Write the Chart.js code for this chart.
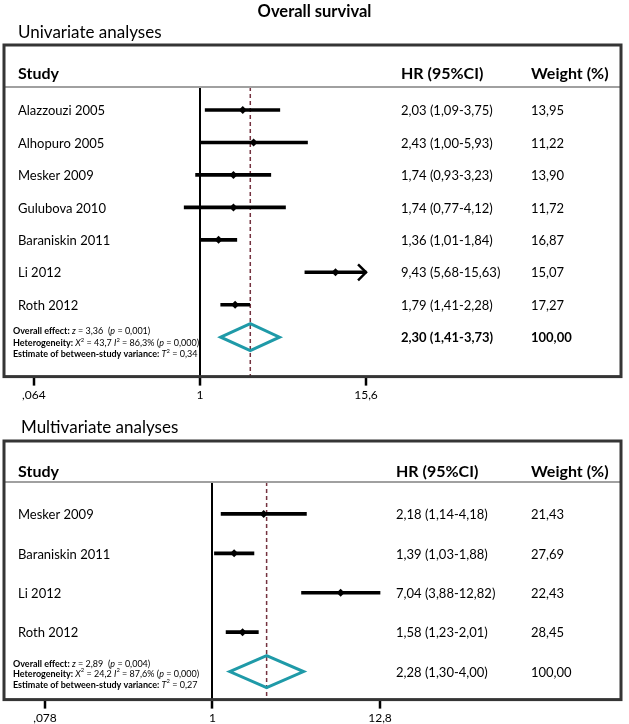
<!DOCTYPE html>
<html>
<head>
<meta charset="utf-8">
<script src="https://cdn.jsdelivr.net/npm/chart.js@4/dist/chart.umd.min.js"></script>
<style>
  body { margin: 0; background: #fff; overflow: hidden; }
  #wrap { position: relative; width: 629px; height: 724px; overflow: hidden; background: #fff; font-family: Lato, sans-serif; color: #000; }
  canvas { position: absolute; left: 0; }
  .t { position: absolute; white-space: nowrap; z-index: 2; }
</style>
</head>
<body>
<div id="wrap">
  <canvas id="uniChart" width="629" height="404" style="top:0"></canvas>
  <canvas id="multiChart" width="629" height="322" style="top:405px"></canvas>
  <div class="t" style="left:0;width:629px;top:1px;text-align:center;font-weight:bold;font-size:16.5px;line-height:20px">Overall survival</div>
  <div class="t" style="left:18px;top:22px;font-size:17px;line-height:20px">Univariate analyses</div>
  <div class="t" style="left:21px;top:417px;font-size:17px;line-height:20px">Multivariate analyses</div>
</div>
<script>
// 단변량 분석 (Univariate)
const uniStudies = ['Alazzouzi 2005', 'Alhopuro 2005', 'Mesker 2009', 'Gulubova 2010', 'Baraniskin 2011', 'Li 2012', 'Roth 2012'];
const uniHR = [2.03, 2.43, 1.74, 1.74, 1.36, 9.43, 1.79];
const uniLow = [1.09, 1.00, 0.93, 0.77, 1.01, 5.68, 1.41];
const uniHigh = [3.75, 5.93, 3.23, 4.12, 1.84, 15.63, 2.28];
const uniWeight = [13.95, 11.22, 13.90, 11.72, 16.87, 15.07, 17.27];
const uniPooled = [2.30, 1.41, 3.73];   // HR, low, high
const uniStats = ['3,36', '0,001', '43,7', '86,3%', '0,000', '0,34'];
const uniTicks = [0.064, 1, 15.625];
const uniTickLabels = [',064', '1', '15,6'];

// 다변량 분석 (Multivariate)
const multiStudies = ['Mesker 2009', 'Baraniskin 2011', 'Li 2012', 'Roth 2012'];
const multiHR = [2.18, 1.39, 7.04, 1.58];
const multiLow = [1.14, 1.03, 3.88, 1.23];
const multiHigh = [4.18, 1.88, 12.82, 2.01];
const multiWeight = [21.43, 27.69, 22.43, 28.45];
const multiPooled = [2.28, 1.30, 4.00];
const multiStats = ['2,89', '0,004', '24,2', '87,6%', '0,000', '0,27'];
const multiTicks = [0.078, 1, 12.82];
const multiTickLabels = [',078', '1', '12,8'];

const FONT = 'Lato';

function fmt(v) {
  return v.toFixed(2).replace('.', ',');
}

function statLines(s) {
  return [
    [['Overall effect: ', 'b'], ['z', 'i'], [' = ' + s[0] + '  (', ''], ['p', 'i'], [' = ' + s[1] + ')', '']],
    [['Heterogeneity: ', 'b'], ['X', 'i'], ['2', 'sup'], [' = ' + s[2] + ' ', ''], ['I', 'i'], ['2', 'sup'], [' = ' + s[3] + ' (', ''], ['p', 'i'], [' = ' + s[4] + ')', '']],
    [['Estimate of between-study variance: ', 'b'], ['T', 'i'], ['2', 'sup'], [' = ' + s[5], '']]
  ];
}

function drawRich(ctx, x, y, segs, size) {
  segs.forEach(([txt, st]) => {
    let fs = size, dy = 0, style = '';
    if (st === 'b') style = 'bold ';
    if (st === 'i') style = 'italic ';
    if (st === 'sup') { fs = size * 0.65; dy = -size * 0.35; }
    ctx.font = style + fs + 'px ' + FONT;
    ctx.fillText(txt, x, y + dy);
    x += ctx.measureText(txt).width;
  });
}

// 포레스트 플롯 장식 (박스, 헤더, 텍스트, 요약 다이아몬드)
const forestPlugin = {
  id: 'forest',
  beforeDatasetsDraw(chart, args, o) {
    const ctx = chart.ctx;
    const ca = chart.chartArea;
    const x = chart.scales.x;
    ctx.save();
    // 전체 효과 점선
    const px = x.getPixelForValue(o.pooled[0]);
    ctx.strokeStyle = '#74323f';
    ctx.lineWidth = 1.5;
    ctx.setLineDash([4, 3]);
    ctx.beginPath();
    ctx.moveTo(px, ca.top);
    ctx.lineTo(px, ca.bottom);
    ctx.stroke();
    ctx.restore();
  },
  afterDatasetsDraw(chart, args, o) {
    const ctx = chart.ctx;
    const ca = chart.chartArea;
    const x = chart.scales.x;
    const y = chart.scales.y;
    ctx.save();

    // 헤더 구분선
    ctx.strokeStyle = '#a0a0a0';
    ctx.lineWidth = 2;
    ctx.beginPath();
    ctx.moveTo(ca.left, ca.top);
    ctx.lineTo(ca.right, ca.top);
    ctx.stroke();

    // 바깥 박스
    ctx.strokeStyle = '#353535';
    ctx.lineWidth = 3;
    ctx.strokeRect(ca.left, o.boxTop, ca.right - ca.left, ca.bottom - o.boxTop);

    // 헤더
    ctx.fillStyle = '#000';
    ctx.textBaseline = 'middle';
    ctx.font = 'bold 16px ' + FONT;
    const hy = ca.top + o.headerDy;
    ctx.fillText('Study', 18, hy);
    ctx.fillText('HR (95%CI)', o.hrX, hy);
    ctx.fillText('Weight (%)', o.wX, hy);

    // 연구별 텍스트
    ctx.font = '13px ' + FONT;
    o.studies.forEach((name, i) => {
      const py = y.getPixelForValue(i + 1) + 1;
      ctx.fillText(name, 18, py);
      ctx.fillText(fmt(o.hr[i]) + ' (' + fmt(o.low[i]) + '-' + fmt(o.high[i]) + ')', o.hrX, py);
      ctx.fillText(fmt(o.weight[i]), o.wX, py);
    });

    // 요약 행
    const sy = y.getPixelForValue(o.studies.length + 1);
    ctx.font = (o.pooledBold ? 'bold ' : '') + '13px ' + FONT;
    ctx.fillText(fmt(o.pooled[0]) + ' (' + fmt(o.pooled[1]) + '-' + fmt(o.pooled[2]) + ')', o.hrX, sy + 1);
    ctx.fillText(fmt(100), o.wX, sy + 1);
    statLines(o.stats).forEach((segs, k) => {
      drawRich(ctx, 13, sy + o.textDy[k], segs, 9);
    });

    // 다이아몬드
    const xl = x.getPixelForValue(o.pooled[1]);
    const xm = x.getPixelForValue(o.pooled[0]);
    const xr = x.getPixelForValue(o.pooled[2]);
    ctx.strokeStyle = '#1f9aa8';
    ctx.lineWidth = 3;
    ctx.lineJoin = 'miter';
    ctx.beginPath();
    ctx.moveTo(xl, sy);
    ctx.lineTo(xm, sy - o.diamondHalf);
    ctx.lineTo(xr, sy);
    ctx.lineTo(xm, sy + o.diamondHalf);
    ctx.closePath();
    ctx.stroke();

    // 축 범위를 넘는 신뢰구간 화살표
    const lastTick = o.ticks[o.ticks.length - 1];
    ctx.strokeStyle = '#000';
    ctx.lineWidth = 2.5;
    o.high.forEach((h, i) => {
      if (h > lastTick) {
        const tx = x.getPixelForValue(h);
        const ty = y.getPixelForValue(i + 1);
        ctx.beginPath();
        ctx.moveTo(tx - 8, ty - 8);
        ctx.lineTo(tx, ty);
        ctx.lineTo(tx - 8, ty + 8);
        ctx.stroke();
      }
    });
    ctx.restore();
  }
};

function makeForest(canvasId, d, lay) {
  const rows = d.studies.map((s, i) => i + 1);
  return new Chart(document.getElementById(canvasId), {
    type: 'bar',
    data: {
      datasets: [{
        type: 'bar',
        indexAxis: 'y',
        data: rows.map((r, i) => ({ x: [d.low[i], d.high[i]], y: r })),
        backgroundColor: '#000',
        borderWidth: 0,
        barThickness: 3,
        order: 2
      }, {
        type: 'scatter',
        data: rows.map((r, i) => ({ x: d.hr[i], y: r })),
        pointStyle: 'rectRot',
        pointRadius: 4,
        backgroundColor: '#000',
        borderColor: '#000',
        borderWidth: 0,
        order: 1
      }]
    },
    options: {
      responsive: false,
      animation: false,
      indexAxis: 'y',
      layout: { padding: { top: lay.top, left: 4, right: 8, bottom: 0 } },
      plugins: {
        legend: { display: false },
        tooltip: { enabled: false },
        forest: Object.assign({}, d, lay)
      },
      scales: {
        x: {
          type: 'logarithmic',
          min: lay.xMin,
          max: lay.xMax,
          offset: false,
          afterBuildTicks: scale => { scale.ticks = d.ticks.map(v => ({ value: v })); },
          ticks: {
            callback: (v, i) => d.tickLabels[i],
            font: { family: FONT, size: 12 },
            color: '#000',
            padding: 2,
            autoSkip: false,
            maxRotation: 0
          },
          grid: {
            offset: false,
            color: ctx => (ctx.tick && ctx.tick.value === 1 ? '#000' : 'rgba(0,0,0,0)'),
            lineWidth: 2,
            tickColor: '#000',
            tickWidth: 2.5,
            tickLength: 9
          },
          border: { display: false }
        },
        y: {
          type: 'linear',
          display: false,
          offset: false,
          reverse: true,
          min: lay.yMin,
          max: lay.yMax
        }
      }
    },
    plugins: [forestPlugin]
  });
}

makeForest('uniChart', {
  studies: uniStudies, hr: uniHR, low: uniLow, high: uniHigh, weight: uniWeight,
  pooled: uniPooled, stats: uniStats, ticks: uniTicks, tickLabels: uniTickLabels, pooledBold: true
}, {
  top: 87, boxTop: 45, headerDy: -13, hrX: 401, wX: 531,
  xMin: 0.039, xMax: 1064, yMin: 0.29, yMax: 9.215,
  diamondHalf: 13.5, textDy: [-6, 6, 17]
});

makeForest('multiChart', {
  studies: multiStudies, hr: multiHR, low: multiLow, high: multiHigh, weight: multiWeight,
  pooled: multiPooled, stats: multiStats, ticks: multiTicks, tickLabels: multiTickLabels, pooledBold: false
}, {
  top: 77, boxTop: 36, headerDy: -10, hrX: 396, wX: 531,
  xMin: 0.0418, xMax: 503, yMin: 0.19, yMax: 5.71,
  diamondHalf: 16, textDy: [-8, 2, 13]
});
</script>
</body>
</html>
